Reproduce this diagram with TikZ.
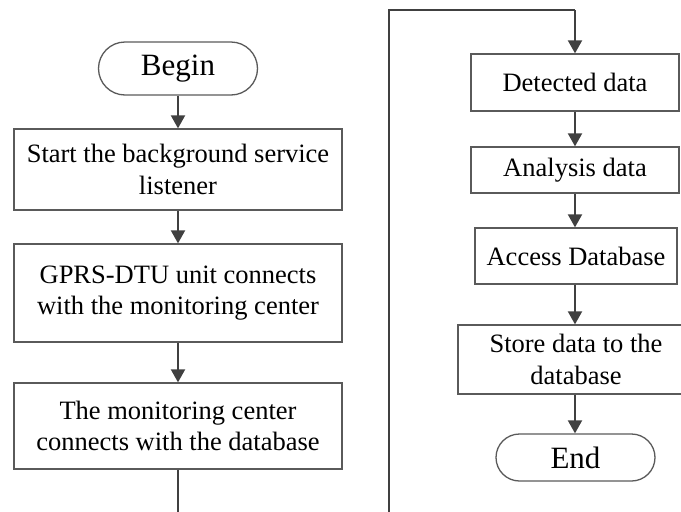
\documentclass[tikz,border=0pt]{standalone}
\usepackage{fontspec}
\setmainfont{Liberation Serif}
\usetikzlibrary{arrows.meta}
\definecolor{boxline}{HTML}{5A5A5A}
\definecolor{arrline}{HTML}{404040}
\tikzset{
  procbox/.style={draw=boxline, line width=1.3pt, rectangle, inner sep=0pt, align=center,
    font=\fontsize{26.5}{31.5}\selectfont, text=black},
  termbox/.style={draw=boxline, line width=1.3pt, rectangle, inner sep=0pt, align=center,
    font=\fontsize{31}{35}\selectfont, text=black},
  flowarrow/.style={draw=arrline, line width=2pt, -{Triangle[width=14pt,length=13pt]}},
  flowline/.style={draw=arrline, line width=2pt},
}
\begin{document}
\begin{tikzpicture}[x=1pt,y=-1pt]
\useasboundingbox (0,0) rectangle (681,512);
\clip (0,0) rectangle (681,512);
% left column
\node[termbox, minimum width=159pt, minimum height=53pt, rounded corners=26.5pt] (begin) at (178,68.5) {Begin};
\node[procbox, minimum width=328pt, minimum height=81pt] (b1) at (178,169.5) {Start the background service\\listener};
\node[procbox, minimum width=328pt, minimum height=98pt] (b2) at (178,293) {GPRS-DTU unit connects\\with the monitoring center};
\node[procbox, minimum width=328pt, minimum height=86pt] (b3) at (178,426) {The monitoring center\\connects with the database};
\coordinate (lbot) at (178,514);
% right column
\coordinate (rbot) at (389,514);
\coordinate (rtopl) at (389,10);
\coordinate (rtopr) at (575,10);
\node[procbox, minimum width=208pt, minimum height=57pt] (d1) at (575,82.5) {Detected data};
\node[procbox, minimum width=208pt, minimum height=46pt] (d2) at (575,170) {Analysis data};
\node[procbox, minimum width=202pt, minimum height=56pt] (d3) at (576,256) {Access Database};
\node[procbox, minimum width=236pt, minimum height=69pt] (d4) at (576,359.5) {Store data to the\\database};
\node[termbox, minimum width=159pt, minimum height=47pt, rounded corners=23.5pt] (end) at (575.5,457.5) {End};
% connectors
\draw[flowarrow] (begin) -- (b1);
\draw[flowarrow] (b1) -- (b2);
\draw[flowarrow] (b2) -- (b3);
\draw[flowline] (b3) -- (lbot);
\draw[flowline] (rbot) -- (rtopl) -- (rtopr);
\draw[flowarrow] (rtopr) -- (d1.north -| rtopr);
\draw[flowarrow] (d1.south -| rtopr) -- (d2.north -| rtopr);
\draw[flowarrow] (d2.south -| rtopr) -- (d3.north -| rtopr);
\draw[flowarrow] (d3.south -| rtopr) -- (d4.north -| rtopr);
\draw[flowarrow] (d4.south -| rtopr) -- (end.north -| rtopr);
\end{tikzpicture}
\end{document}
